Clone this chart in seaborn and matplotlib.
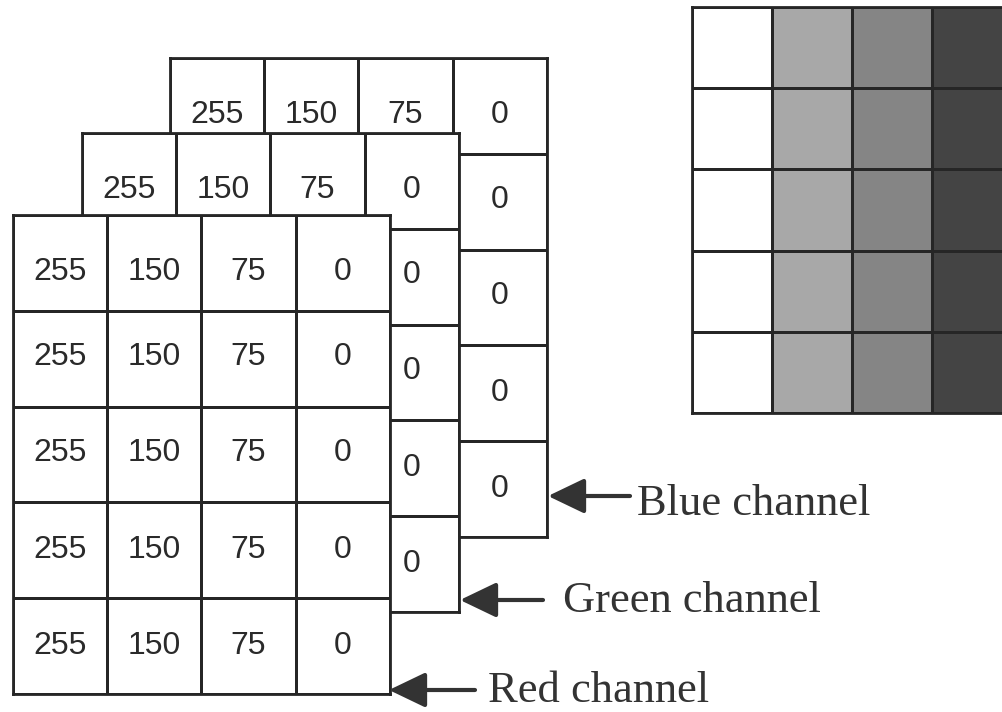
import numpy as np
import matplotlib
matplotlib.use("Agg")
import matplotlib.pyplot as plt
from matplotlib.colors import ListedColormap, LinearSegmentedColormap
import seaborn as sns

# ---------------- data ----------------
column_levels = [255, 150, 75, 0]
red_channel = [
    [255, 150, 75, 0],
    [255, 150, 75, 0],
    [255, 150, 75, 0],
    [255, 150, 75, 0],
    [255, 150, 75, 0],
]
green_channel = [
    [255, 150, 75, 0],
    [255, 150, 75, 0],
    [255, 150, 75, 0],
    [255, 150, 75, 0],
    [255, 150, 75, 0],
]
blue_channel = [
    [255, 150, 75, 0],
    [255, 150, 75, 0],
    [255, 150, 75, 0],
    [255, 150, 75, 0],
    [255, 150, 75, 0],
]
channel_labels = ["Blue channel", "Green channel", "Red channel"]

# ---------------- layout (pixels) ----------------
W, H = 1003, 712
CELL_W, CELL_H = 94.2, 95.8
# top-left corners of the stacked grids (back to front)
grid_origins = [(170, 58), (82, 133), (13, 215)]
gray_origin = (692, 7)
GRAY_W, GRAY_H = 80, 81.2
# vertical nudge of the printed numbers per row (fraction of a cell)
row_text_nudge = [0.09, -0.02, -0.02, 0.0, 0.0]
# arrows: (tip_x, y, tail_x, text_x, text_baseline)
arrow_specs = [
    (548, 496, 630, 637, 515),
    (460, 600, 543, 563, 612),
    (389, 690, 475, 488, 702),
]

LINE = "#262626"
TXT = "#2a2a2a"

sns.set_style("white")
plt.rcParams["font.family"] = ["Liberation Sans", "DejaVu Sans"]

fig = plt.figure(figsize=(W / 100, H / 100), dpi=100)
fig.patch.set_facecolor("white")

main = fig.add_axes([0, 0, 1, 1])
main.set_xlim(0, W)
main.set_ylim(H, 0)
main.axis("off")
main.patch.set_alpha(0)


def px_axes(x, y, w, h):
    return fig.add_axes([x / W, 1 - (y + h) / H, w / W, h / H])


def covered(k, i, j):
    """Is the centre of cell (i, j) of grid k hidden by a grid in front of it?"""
    ox, oy = grid_origins[k]
    cx, cy = ox + (j + 0.5) * CELL_W, oy + (i + 0.5) * CELL_H
    for fx, fy in grid_origins[k + 1:]:
        if fx < cx < fx + 4 * CELL_W and fy < cy < fy + 5 * CELL_H:
            return True
    return False


white_cmap = ListedColormap(["white"])
for k, data in enumerate([blue_channel, green_channel, red_channel]):
    ox, oy = grid_origins[k]
    arr = np.array(data)
    nr, nc = arr.shape
    ax = px_axes(ox, oy, nc * CELL_W, nr * CELL_H)
    sns.heatmap(arr, ax=ax, cmap=white_cmap, cbar=False, annot=False,
                linewidths=2.0, linecolor=LINE,
                xticklabels=False, yticklabels=False)
    for i in range(nr):
        for j in range(nc):
            if covered(k, i, j):
                continue
            ax.text(j + 0.5, i + 0.5 + row_text_nudge[i], str(arr[i, j]),
                    ha="center", va="center", fontsize=23, color=TXT)
    for s in ax.spines.values():
        s.set_visible(True)
        s.set_color(LINE)
        s.set_linewidth(2.0)

# grayscale rendering of the same image
gray_cmap = LinearSegmentedColormap.from_list(
    "print_gray",
    [(0.0, "#444444"), (75 / 255, "#858585"), (150 / 255, "#a8a8a8"), (1.0, "#ffffff")])
gray_arr = np.array(red_channel)
gax = px_axes(gray_origin[0], gray_origin[1],
              gray_arr.shape[1] * GRAY_W, gray_arr.shape[0] * GRAY_H)
sns.heatmap(gray_arr, ax=gax, cmap=gray_cmap, vmin=0, vmax=255, cbar=False,
            linewidths=2.0, linecolor=LINE, xticklabels=False, yticklabels=False)
for s in gax.spines.values():
    s.set_visible(True)
    s.set_color(LINE)
    s.set_linewidth(2.0)

# arrows and labels
for label, (tip_x, y, tail_x, text_x, base) in zip(channel_labels, arrow_specs):
    main.annotate("", xy=(tip_x, y), xytext=(tail_x, y),
                  arrowprops=dict(arrowstyle="-|>,head_length=1.5,head_width=0.72",
                                  mutation_scale=15, lw=3, color="#333333",
                                  shrinkA=0, shrinkB=0))
    main.text(text_x, base, label, fontsize=32, color="#333333",
              family=["Liberation Serif", "DejaVu Serif"], ha="left", va="baseline")

fig.savefig("out.png", dpi=100, facecolor="white")
